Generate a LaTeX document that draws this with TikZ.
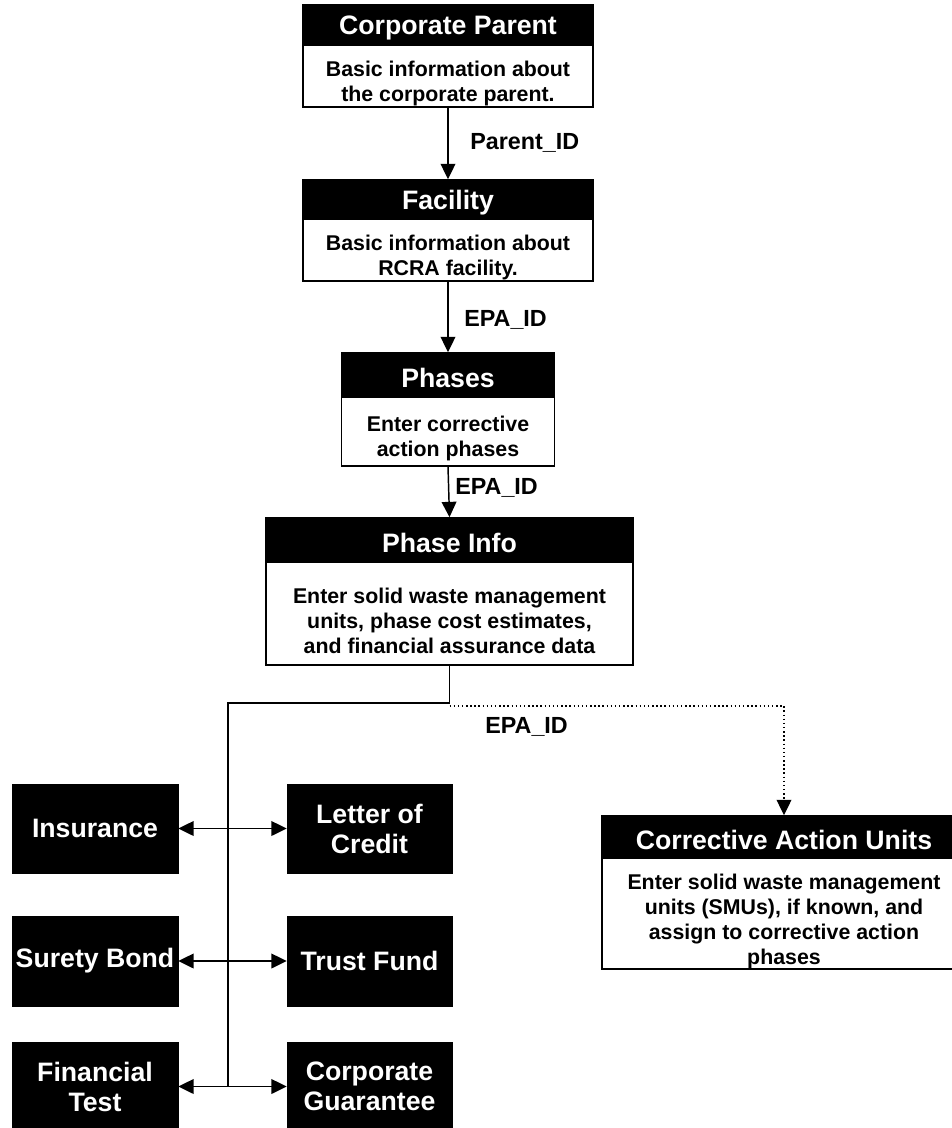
\documentclass[tikz,border=0pt]{standalone}
\usepackage{fontspec}
\setmainfont{Liberation Sans}
\usetikzlibrary{arrows.meta}
\tikzset{
 hdr/.style={draw=black, fill=black, text=white, line width=1.2pt, inner sep=0pt, font=\fontsize{20}{22.5}\selectfont\bfseries},
 bodybox/.style={draw=black, fill=white, line width=1.2pt, inner sep=0pt},
 bodytext/.style={inner sep=0pt, align=center, font=\fontsize{16}{18.75}\selectfont\bfseries},
 blk/.style={draw=black, fill=black, text=white, inner sep=0pt, align=center, font=\fontsize{20}{22.5}\selectfont\bfseries},
 lbl/.style={inner sep=0pt, anchor=west, font=\fontsize{17.5}{20}\selectfont\bfseries},
 tip/.tip={Triangle[width=11pt,length=11.5pt]},
 arr/.style={line width=1.1pt, -tip},
 dbl/.style={line width=1.1pt, tip-tip},
}
\newcommand{\hdrtxt}[1]{\raisebox{-2.25pt}[\height][\depth]{#1}}
\begin{document}
\begin{tikzpicture}[x=0.75pt, y=-0.75pt]
\useasboundingbox (0,0) rectangle (952,1128);
\fill[white] (0,0) rectangle (952,1128);
\clip (0,0) rectangle (952,1128);

% Corporate Parent
\node[bodybox, minimum width=217.5pt, minimum height=46.5pt] (cpb) at (448,76) {};
\node[bodytext] (cpt) at (448,83) {Basic information about\\the corporate parent.};
\node[hdr, minimum width=217.5pt, minimum height=30pt] (cph) at (448,25) {\hdrtxt{Corporate Parent}};

% Facility
\node[bodybox, minimum width=217.5pt, minimum height=46.5pt] (fab) at (448,250) {};
\node[bodytext] (fat) at (448,257) {Basic information about\\RCRA facility.};
\node[hdr, minimum width=217.5pt, minimum height=29.25pt] (fah) at (448,199.5) {\hdrtxt{Facility}};

% Phases
\node[bodybox, minimum width=159.75pt, minimum height=51.75pt] (phb) at (448,431.5) {};
\node[bodytext] (pht) at (448,438.5) {Enter corrective\\action phases};
\node[hdr, minimum width=159.75pt, minimum height=33pt] (phh) at (448,375) {\hdrtxt{Phases}};

% Phase Info
\node[bodybox, minimum width=275.25pt, minimum height=77.25pt] (pib) at (449.5,613.5) {};
\node[bodytext] (pit) at (449.5,620.5) {Enter solid waste management\\units, phase cost estimates,\\and financial assurance data};
\node[hdr, minimum width=275.25pt, minimum height=33pt] (pih) at (449.5,540) {\hdrtxt{Phase Info}};

% Corrective Action Units
\node[bodybox, minimum width=273pt, minimum height=83.25pt] (caub) at (784,913.5) {};
\node[bodytext] (caut) at (784,921) {Enter solid waste management\\units (SMUs), if known, and\\assign to corrective action\\phases};
\node[hdr, minimum width=273pt, minimum height=31.5pt] (cauh) at (784,837) {\hdrtxt{Corrective Action Units}};

% Financial mechanism boxes
\node[blk, minimum width=124.5pt, minimum height=66.75pt] (ins) at (95,828.5) {Insurance};
\node[blk, minimum width=123.75pt, minimum height=66.75pt] (loc) at (369.5,828.5) {Letter of\\Credit};
\node[blk, minimum width=124.5pt, minimum height=67.5pt] (sb) at (95,961) {Surety Bond};
\node[blk, minimum width=123.75pt, minimum height=67.5pt] (tf) at (369.5,961) {Trust Fund};
\node[blk, minimum width=124.5pt, minimum height=66.75pt] (ft) at (95,1086.5) {Financial\\Test};
\node[blk, minimum width=123.75pt, minimum height=66.75pt] (cg) at (369.5,1086.5) {Corporate\\Guarantee};

% Labels
\node[lbl] (l1) at (470,143) {Parent\_ID};
\node[lbl] (l2) at (464,320) {EPA\_ID};
\node[lbl] (l3) at (455,488) {EPA\_ID};
\node[lbl] (l4) at (485,727) {EPA\_ID};

% Main chain
\draw[arr] (cpb.south) -- (fah.north);
\draw[arr] (fab.south) -- (phh.north);
\draw[arr] (phb.south) -- (pih.north);

% Tree
\coordinate (jl) at (228,703);
\coordinate (jb) at (228,1086.5);
\coordinate (jd) at (449.5,706);
\draw[line width=1.1pt] (pib.south) -- (pib.south |- jl) -- (jl) -- (jb);
\draw[line width=1.1pt, dotted, -tip] (jd) -- (cauh.north |- jd) -- (cauh.north);

\draw[dbl] (ins.east) -- (loc.west);
\draw[dbl] (sb.east) -- (tf.west);
\draw[dbl] (ft.east) -- (cg.west);
\end{tikzpicture}
\end{document}
